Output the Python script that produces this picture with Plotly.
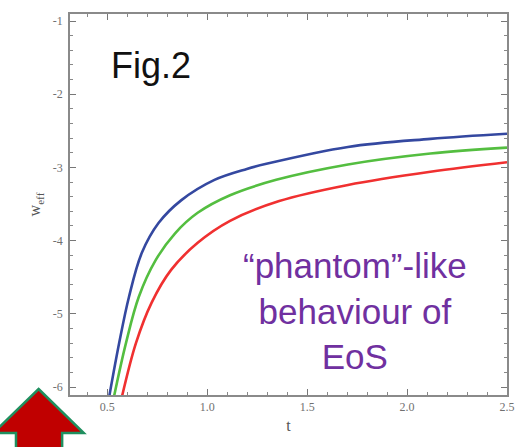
import plotly.graph_objects as go

# ---- data ----
t_blue = [0.510, 0.559, 0.608, 0.672, 0.756, 0.869, 1.036, 1.198, 1.296, 1.704, 2.117, 2.500]
w_blue = [-6.12, -5.40, -4.77, -4.17, -3.76, -3.45, -3.17, -3.02, -2.95, -2.72, -2.61, -2.54]

t_green = [0.534, 0.593, 0.657, 0.741, 0.839, 0.952, 1.114, 1.345, 1.704, 2.117, 2.500]
w_green = [-6.12, -5.40, -4.77, -4.27, -3.90, -3.62, -3.38, -3.17, -2.96, -2.81, -2.73]

t_red = [0.574, 0.643, 0.721, 0.819, 0.952, 1.114, 1.360, 1.704, 2.117, 2.500]
w_red = [-6.12, -5.40, -4.85, -4.40, -4.03, -3.73, -3.46, -3.24, -3.06, -2.93]

x_tickvals = [0.5, 1.0, 1.5, 2.0, 2.5]
x_ticktext = ["0.5", "1.0", "1.5", "2.0", "2.5"]
y_tickvals = [-1, -2, -3, -4, -5, -6]
y_ticktext = ["-1", "-2", "-3", "-4", "-5", "-6"]

X_RANGE = [0.313, 2.5]
Y_RANGE = [-6.109, -0.904]

fig = go.Figure()
for t, w, c in [(t_blue, w_blue, "rgb(52,72,160)"),
                (t_green, w_green, "rgb(84,190,64)"),
                (t_red, w_red, "rgb(240,48,48)")]:
    fig.add_trace(go.Scatter(x=t, y=w, mode="lines",
                             line=dict(color=c, width=2.6, shape="spline", smoothing=1.0),
                             showlegend=False, hoverinfo="skip"))

# invisible trace to carry the mirrored (top/right) tick axes
fig.add_trace(go.Scatter(x=[X_RANGE[0]], y=[Y_RANGE[0]], xaxis="x2", yaxis="y2",
                         mode="markers", marker=dict(opacity=0), showlegend=False,
                         hoverinfo="skip"))

tick_common = dict(
    showgrid=False, zeroline=False, showline=True, linecolor="#8a8a8a", linewidth=1.5,
    ticks="inside", ticklen=6, tickwidth=1.2, tickcolor="#777777",
    tickfont=dict(family="Liberation Serif", size=12, color="#707070"),
    ticklabeloverflow="allow",
)
minor_x = dict(dtick=0.1, tick0=0, ticks="inside", ticklen=3.5, tickcolor="#888888",
               tickwidth=1, showgrid=False)
minor_y = dict(dtick=0.2, tick0=0, ticks="inside", ticklen=3.5, tickcolor="#888888",
               tickwidth=1, showgrid=False)

fig.update_layout(
    xaxis=dict(range=X_RANGE, tickvals=x_tickvals, ticktext=x_ticktext, minor=minor_x,
               title=dict(text="t", font=dict(family="Liberation Serif", size=16, color="#555555"),
                          standoff=7),
               **tick_common),
    yaxis=dict(range=Y_RANGE, tickvals=y_tickvals, ticktext=y_ticktext, minor=minor_y,
               ticklabelstandoff=3,
               title=dict(text="w<sub>eff</sub>", font=dict(family="Liberation Serif", size=16, color="#555555"),
                          standoff=8),
               **tick_common),
    xaxis2=dict(range=X_RANGE, overlaying="x", side="top", anchor="y", tickvals=x_tickvals,
                showticklabels=False, minor=minor_x, **tick_common),
    yaxis2=dict(range=Y_RANGE, overlaying="y", side="right", anchor="x", tickvals=y_tickvals,
                showticklabels=False, minor=minor_y, **tick_common),
)

fig.add_annotation(text="Fig.2", xref="paper", yref="paper", x=0.185, y=0.864,
                   showarrow=False, xanchor="center", yanchor="middle",
                   font=dict(family="Liberation Sans", size=36, color="#111111"))
fig.add_annotation(text="“phantom”-like<br>behaviour of<br>EoS", xref="paper", yref="paper",
                   x=0.653, y=0.22, showarrow=False, xanchor="center", yanchor="middle",
                   font=dict(family="Liberation Sans", size=35, color="#7030A0"))

# decorative up-arrow in the lower-left corner (paper coordinates)
def px(x):
    return (x - 70) / 445.0

def py(y):
    return (395 - y) / 381.0

pts = [(38, 389), (84, 433), (62, 433), (62, 460), (15, 460), (15, 433), (-8, 433)]
path = "M " + " L ".join(f"{px(a):.4f},{py(b):.4f}" for a, b in pts) + " Z"
fig.add_shape(type="path", path=path, xref="paper", yref="paper",
              fillcolor="#C00000", line=dict(color="#1F8F5F", width=2.5), layer="above")

fig.update_layout(width=521, height=447, margin=dict(l=70, r=6, t=14, b=52),
                  paper_bgcolor="white", plot_bgcolor="white")

fig.write_html("out.html")
